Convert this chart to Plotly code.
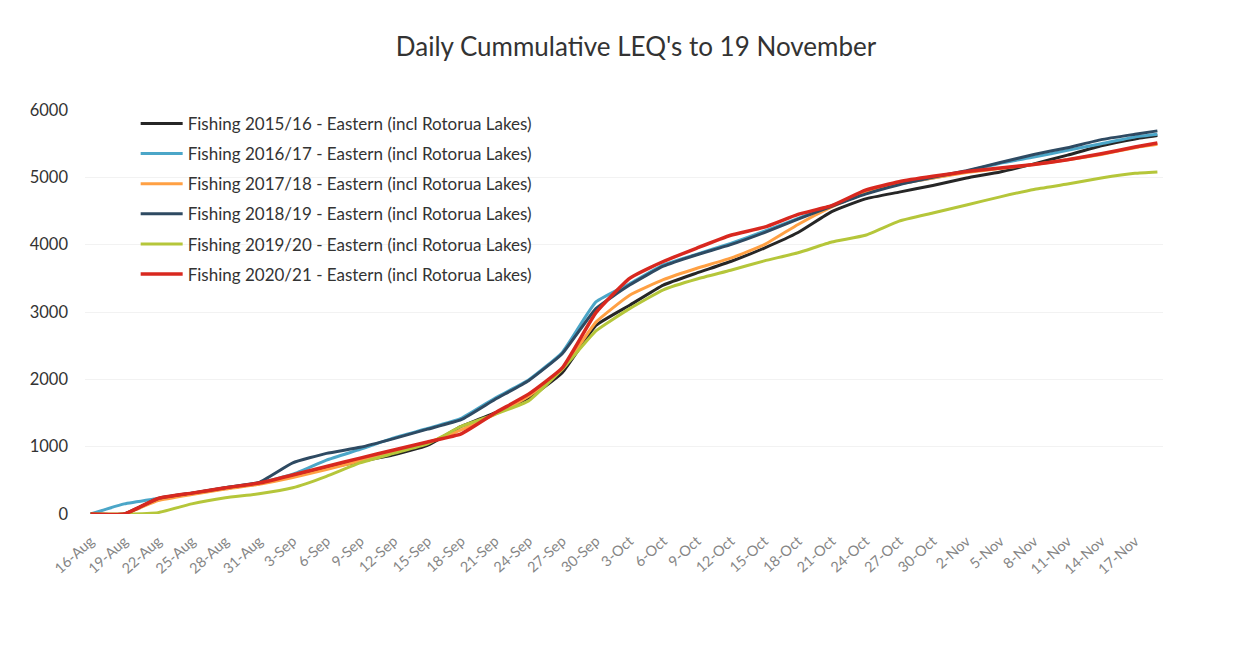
import plotly.graph_objects as go

# dates read every 3 days off the chart, plus the last day (19 Nov)
dates = ["2020-08-16", "2020-08-19", "2020-08-22", "2020-08-25", "2020-08-28", "2020-08-31",
         "2020-09-03", "2020-09-06", "2020-09-09", "2020-09-12", "2020-09-15", "2020-09-18",
         "2020-09-21", "2020-09-24", "2020-09-27", "2020-09-30", "2020-10-03", "2020-10-06",
         "2020-10-09", "2020-10-12", "2020-10-15", "2020-10-18", "2020-10-21", "2020-10-24",
         "2020-10-27", "2020-10-30", "2020-11-02", "2020-11-05", "2020-11-08", "2020-11-11",
         "2020-11-14", "2020-11-17", "2020-11-19"]

fish_1516 = [0, 0, 220, 300, 380, 450, 560, 680, 780, 880, 1020, 1300, 1500, 1720, 2100, 2800,
             3100, 3400, 3580, 3750, 3950, 4180, 4490, 4680, 4780, 4880, 4990, 5080, 5200, 5330,
             5470, 5570, 5620]
fish_1617 = [0, 150, 230, 310, 390, 460, 590, 800, 960, 1130, 1270, 1420, 1720, 1990, 2400, 3150,
             3420, 3700, 3860, 4020, 4200, 4390, 4580, 4760, 4900, 4990, 5090, 5210, 5300, 5400,
             5500, 5600, 5640]
fish_1718 = [0, 0, 200, 290, 370, 440, 540, 660, 790, 920, 1060, 1250, 1480, 1750, 2150, 2850,
             3250, 3480, 3650, 3800, 4000, 4300, 4560, 4780, 4900, 4990, 5070, 5130, 5190, 5260,
             5340, 5440, 5490]
fish_1819 = [0, 0, 230, 310, 390, 470, 760, 900, 990, 1120, 1260, 1400, 1700, 1980, 2380, 3050,
             3400, 3680, 3850, 4000, 4180, 4380, 4570, 4750, 4890, 5000, 5100, 5220, 5340, 5440,
             5560, 5640, 5690]
fish_1920 = [0, 0, 20, 150, 240, 300, 390, 560, 760, 900, 1040, 1300, 1480, 1680, 2150, 2720,
             3050, 3330, 3490, 3620, 3760, 3880, 4040, 4140, 4350, 4470, 4590, 4710, 4820, 4900,
             4990, 5060, 5080]
fish_2021 = [0, 0, 230, 310, 390, 460, 580, 705, 830, 950, 1070, 1190, 1500, 1780, 2170, 2990,
             3500, 3750, 3950, 4140, 4260, 4450, 4580, 4810, 4935, 5015, 5085, 5140, 5190, 5260,
             5350, 5450, 5510]

names = ["Fishing 2015/16 - Eastern (incl Rotorua Lakes)",
         "Fishing 2016/17 - Eastern (incl Rotorua Lakes)",
         "Fishing 2017/18 - Eastern (incl Rotorua Lakes)",
         "Fishing 2018/19 - Eastern (incl Rotorua Lakes)",
         "Fishing 2019/20 - Eastern (incl Rotorua Lakes)",
         "Fishing 2020/21 - Eastern (incl Rotorua Lakes)"]
series = [fish_1516, fish_1617, fish_1718, fish_1819, fish_1920, fish_2021]
colors = ["#262626", "#4BA6C8", "#FFA043", "#2E4A62", "#B5C63A", "#D8281F"]

fig = go.Figure()
for i in range(len(series)):
    fig.add_trace(go.Scatter(
        x=dates, y=series[i], name=names[i], mode="lines",
        legendgroup=str(i),
        line=dict(color=colors[i], width=3.5 if i == 5 else 3, shape="spline", smoothing=0.4),
    ))

# page body adds 8px, margins are shifted to compensate
fig.update_layout(
    width=1247, height=645,
    paper_bgcolor="white", plot_bgcolor="white",
    margin=dict(l=77, r=92, t=102, b=139),
    font=dict(family="Lato", color="#404040"),
    title=dict(text="Daily Cummulative LEQ's to 19 November", x=0.5036, xanchor="center",
               y=0.9395, yanchor="middle", font=dict(size=26, color="#333333")),
    showlegend=True,
    legend=dict(x=0.047, y=1.01, xanchor="left", yanchor="top", bgcolor="rgba(0,0,0,0)",
                font=dict(size=17, color="#333333"), itemwidth=42, tracegroupgap=5),
)
fig.update_xaxes(
    type="date", range=["2020-08-15 12:00", "2020-11-19 12:00"], automargin=False,
    tick0="2020-08-16", dtick=3 * 86400000, tickformat="%-d-%b", tickangle=-42,
    tickfont=dict(size=14.5, color="#858585"), showgrid=False, showline=False, zeroline=False,
    ticklabelstandoff=15,
)
fig.update_yaxes(
    range=[0, 6000], dtick=1000, showgrid=True, gridcolor="#f2f2f2", automargin=False,
    tickfont=dict(size=16.5, color="#333333"), zeroline=False, ticklabelstandoff=16,
)

fig.write_html("out.html")
